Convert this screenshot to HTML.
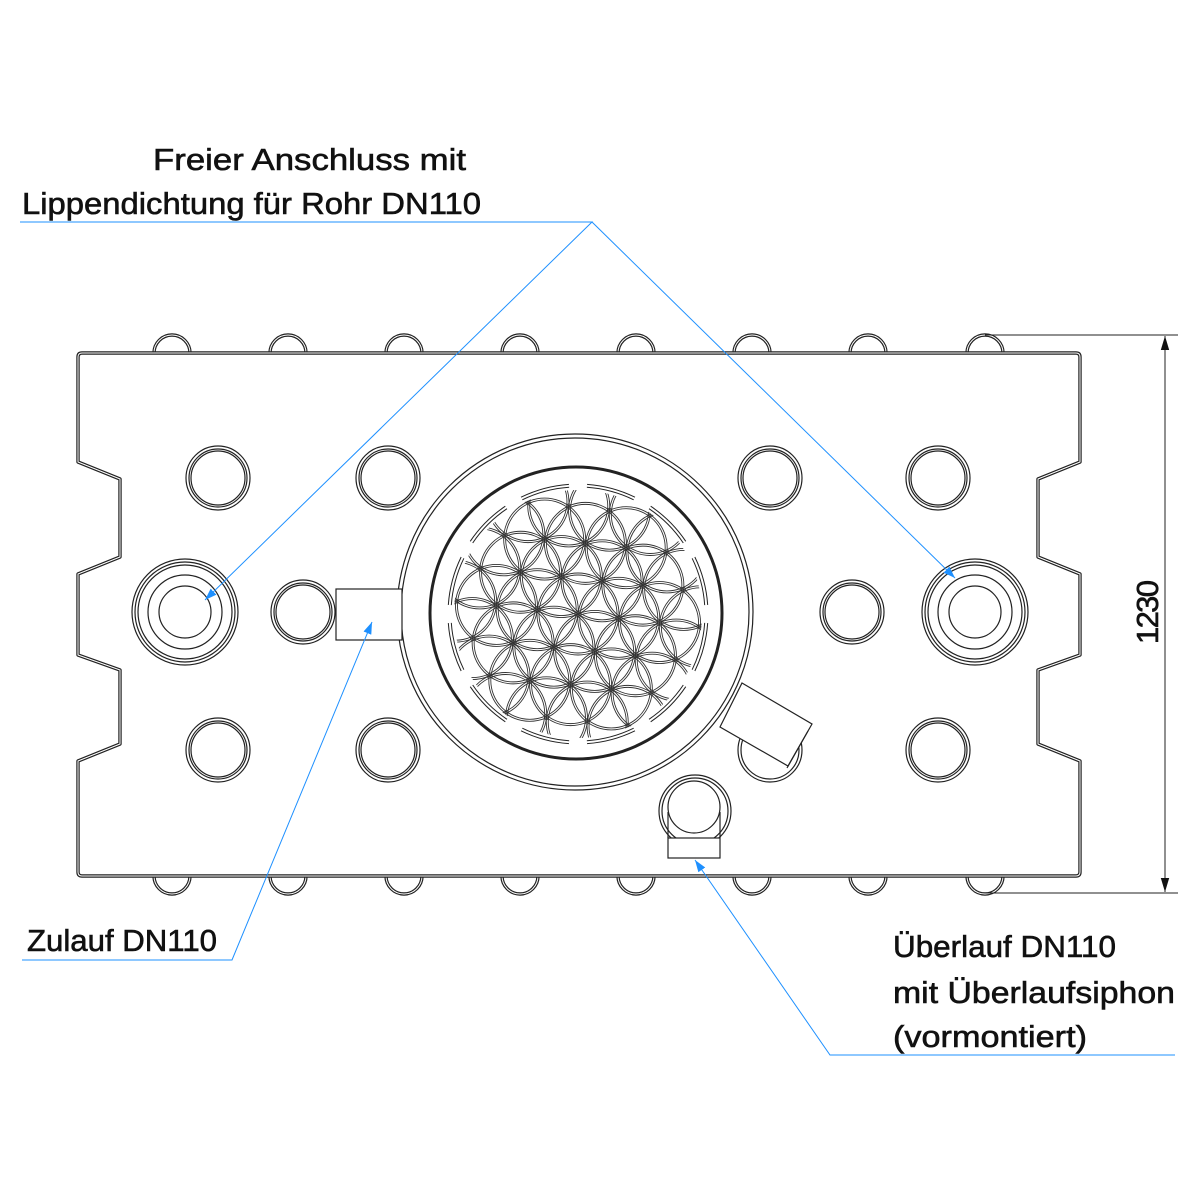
<!DOCTYPE html>
<html><head><meta charset="utf-8"><style>
html,body{margin:0;padding:0;background:#fff;width:1200px;height:1200px;overflow:hidden}
svg{display:block}
text{font-family:"Liberation Sans","DejaVu Sans",sans-serif;font-size:31px;fill:#111;stroke:#111;stroke-width:0.6}
</style></head><body>
<svg id="s" width="1200" height="1200" viewBox="0 0 1200 1200" xmlns="http://www.w3.org/2000/svg">
<defs>
<clipPath id="fc"><circle cx="578" cy="614" r="124"/></clipPath>
<marker id="ab" viewBox="0 0 10 10" refX="10" refY="5" markerWidth="12" markerHeight="12" markerUnits="userSpaceOnUse" orient="auto"><path d="M0,1.5 L10,5 L0,8.5z" fill="#1e90ff"/></marker>
<marker id="ak" viewBox="0 0 10 10" refX="10" refY="5" markerWidth="14" markerHeight="14" markerUnits="userSpaceOnUse" orient="auto"><path d="M0,2 L10,5 L0,8z" fill="#111"/></marker>
</defs>
<g id="bumps"></g>
<g id="body"></g>
<g id="holes" fill="none" stroke="#222" stroke-width="1.2"></g>
<g id="center" fill="none" stroke="#222" stroke-width="1.2"></g>
<g id="flower" fill="none" stroke="#333" stroke-width="0.9" clip-path="url(#fc)"></g>
<g id="extra" fill="none" stroke="#222" stroke-width="1.2"></g>
<g stroke="#222" stroke-width="1" fill="none">
<line x1="985" y1="335" x2="1178" y2="335"/>
<line x1="985" y1="893" x2="1178" y2="893"/>
<line x1="1165" y1="600" x2="1165" y2="336" marker-end="url(#ak)"/>
<line x1="1165" y1="600" x2="1165" y2="892" marker-end="url(#ak)"/>
</g>
<text transform="translate(1158,612) rotate(-90)" text-anchor="middle" font-size="32" textLength="64">1230</text>
<g stroke="#1e90ff" stroke-width="1" fill="none">
<polyline points="20,222 592,222 205,600" marker-end="url(#ab)"/>
<line x1="592" y1="222" x2="955" y2="578" marker-end="url(#ab)"/>
<polyline points="22,960 232,960 372,622" marker-end="url(#ab)"/>
<polyline points="1175,1055 830,1055 695,860" marker-end="url(#ab)"/>
</g>
<text x="153" y="170" textLength="313" lengthAdjust="spacingAndGlyphs">Freier Anschluss mit</text>
<text x="22" y="214" textLength="459" lengthAdjust="spacingAndGlyphs">Lippendichtung für Rohr DN110</text>
<text x="27" y="951" textLength="190" lengthAdjust="spacingAndGlyphs">Zulauf DN110</text>
<text x="893" y="957" textLength="223" lengthAdjust="spacingAndGlyphs">Überlauf DN110</text>
<text x="893" y="1003" textLength="282" lengthAdjust="spacingAndGlyphs">mit Überlaufsiphon</text>
<text x="893" y="1047" textLength="194" lengthAdjust="spacingAndGlyphs">(vormontiert)</text>
</svg>
<script>
const NS="http://www.w3.org/2000/svg";
function el(p,t,a){const e=document.createElementNS(NS,t);for(const k in a)e.setAttribute(k,a[k]);document.getElementById(p).appendChild(e);return e;}
[172,288,404,520,636,752,868,985].forEach(x=>{
 el('bumps','path',{d:`M${x-18},353 A18,18 0 0 1 ${x+18},353`,fill:'none',stroke:'#222','stroke-width':3.4});
 el('bumps','path',{d:`M${x-18},353 A18,18 0 0 1 ${x+18},353`,fill:'none',stroke:'#fff','stroke-width':1});
 el('bumps','path',{d:`M${x-18},876 A18,18 0 0 0 ${x+18},876`,fill:'none',stroke:'#222','stroke-width':3.4});
 el('bumps','path',{d:`M${x-18},876 A18,18 0 0 0 ${x+18},876`,fill:'none',stroke:'#fff','stroke-width':1});
});
const bd="M82,353 L1076,353 Q1080,353 1080,357 L1080,462 L1038,479 L1038,557 L1080,574 L1080,655 L1038,670 L1038,744 L1080,761 L1080,872 Q1080,876 1076,876 L82,876 Q78,876 78,872 L78,761 L120,744 L120,670 L78,655 L78,574 L120,557 L120,479 L78,462 L78,357 Q78,353 82,353Z";
el('body','path',{d:bd,fill:'none',stroke:'#222','stroke-width':3.4,'stroke-linejoin':'round'});
el('body','path',{d:bd,fill:'none',stroke:'#fff','stroke-width':1,'stroke-linejoin':'round'});
[[218,478],[388,478],[770,478],[938,478],[218,750],[388,750],[938,750],[303,612],[852,612]].forEach(([x,y])=>{
 el('holes','circle',{cx:x,cy:y,r:32});el('holes','circle',{cx:x,cy:y,r:29});el('holes','circle',{cx:x,cy:y,r:27});
});
[[185,612],[975,612]].forEach(([x,y])=>{
 el('holes','circle',{cx:x,cy:y,r:53});el('holes','circle',{cx:x,cy:y,r:50});el('holes','circle',{cx:x,cy:y,r:47});
 el('holes','circle',{cx:x,cy:y,r:37});el('holes','circle',{cx:x,cy:y,r:26});
});
el('holes','circle',{cx:770,cy:750,r:32});el('holes','circle',{cx:770,cy:750,r:29});
el('center','circle',{cx:575,cy:612,r:178,fill:'#fff'});
el('center','circle',{cx:575,cy:612,r:174});
el('center','circle',{cx:576,cy:613,r:146,'stroke-width':3});
for(let i=0;i<12;i++){const a0=(i*30+4)*Math.PI/180,a1=(i*30+26)*Math.PI/180;
 [130,127].forEach(r=>{const x0=578+r*Math.cos(a0),y0=614+r*Math.sin(a0),x1=578+r*Math.cos(a1),y1=614+r*Math.sin(a1);
 el('center','path',{d:`M${x0},${y0} A${r},${r} 0 0 1 ${x1},${y1}`,'stroke-width':1});});}
const s=41,th=6*Math.PI/180,ux=[Math.cos(th),Math.sin(th)],vx=[Math.cos(th+Math.PI/3),Math.sin(th+Math.PI/3)];
for(let i=-6;i<=6;i++)for(let j=-6;j<=6;j++){const x=578+s*(i*ux[0]+j*vx[0]),y=614+s*(i*ux[1]+j*vx[1]);
 if(Math.hypot(x-578,y-614)<128){el('flower','circle',{cx:x,cy:y,r:s});el('flower','circle',{cx:x,cy:y,r:s-2});
 el('flower','circle',{cx:x,cy:y,r:2,'stroke-width':0.8});}}
el('extra','rect',{x:336,y:589,width:66,height:51,fill:'#fff'});
el('extra','path',{d:'M742,683 L812,724 L788,766 L720,727 Z',fill:'#fff'});
el('extra','line',{x1:808,y1:731,x2:787,y2:768});
el('extra','circle',{cx:695,cy:811,r:36,fill:'#fff'});el('extra','circle',{cx:695,cy:811,r:33});
el('extra','circle',{cx:694,cy:807,r:26});
el('extra','rect',{x:668,y:838,width:52,height:20,fill:'#fff'});
el('extra','line',{x1:668,y1:812,x2:668,y2:838});el('extra','line',{x1:720,y1:812,x2:720,y2:838});
</script>
</body></html>
